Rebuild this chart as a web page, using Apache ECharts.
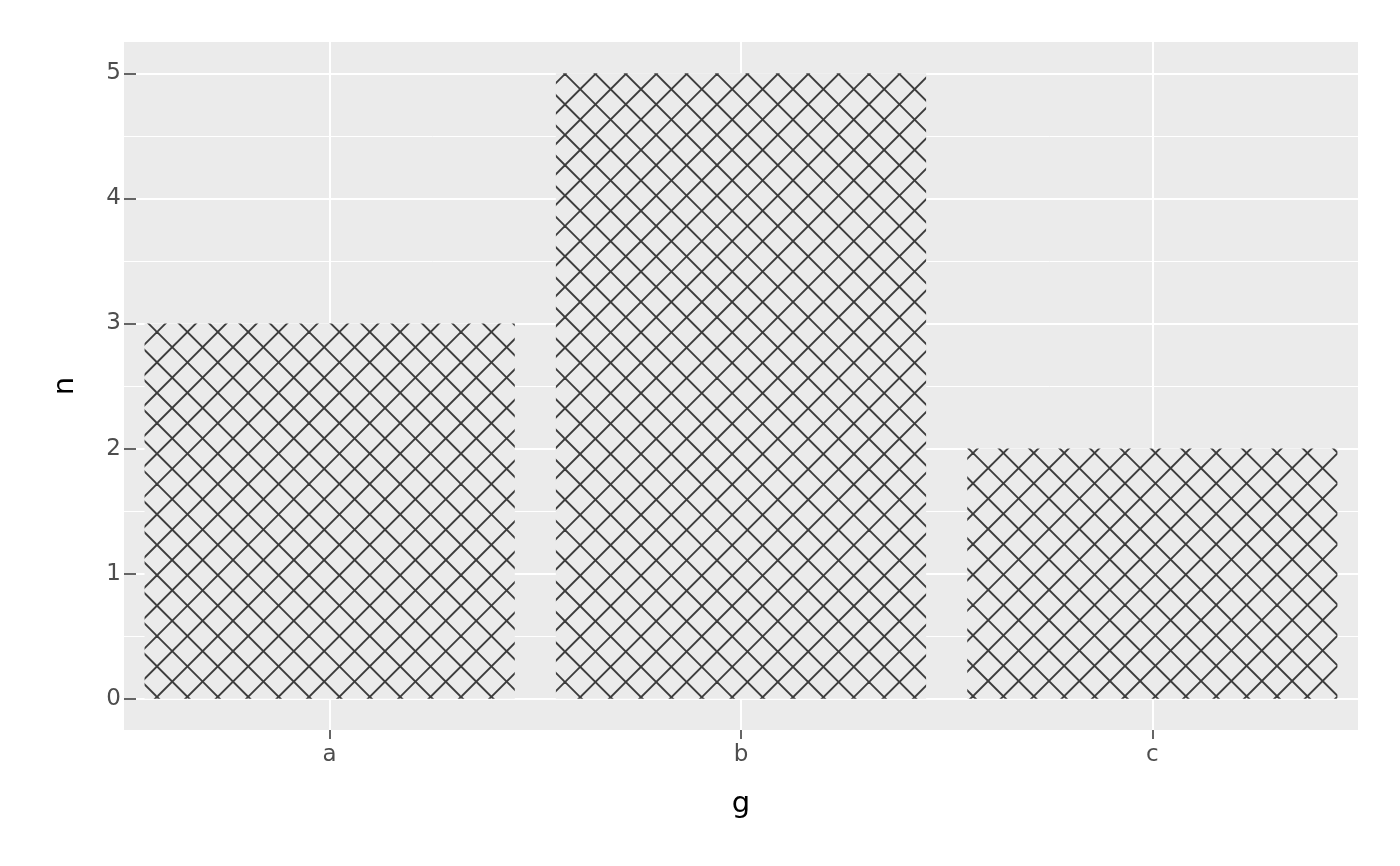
<!DOCTYPE html>
<html>
<head>
<meta charset="utf-8">
<script src="https://cdn.jsdelivr.net/npm/echarts@6/dist/echarts.min.js"></script>
<style>
html,body{margin:0;padding:0;background:#fff;}
#chart{width:1400px;height:866px;}
</style>
</head>
<body>
<div id="chart"></div>
<script>
// ---- data ----
const categories = ['a', 'b', 'c'];
const counts = [3, 5, 2];
const yTickValues = [0, 1, 2, 3, 4, 5];
const yMinorValues = [0.5, 1.5, 2.5, 3.5, 4.5];
const xTitle = 'g';
const yTitle = 'n';

// ---- crosshatch pattern tile ----
function makeTile() {
  const P = 30.4, T = 152; // 5 periods per tile -> seamless
  const c = document.createElement('canvas');
  c.width = T; c.height = T;
  const ctx = c.getContext('2d');
  ctx.fillStyle = '#EBEBEB';
  ctx.fillRect(0, 0, T, T);
  ctx.strokeStyle = '#3c3c3c';
  ctx.lineWidth = 1.9;
  for (let k = -12; k <= 12; k++) {
    const off = k * P;
    ctx.beginPath();
    ctx.moveTo(off - 20, -20); ctx.lineTo(off + T + 20, T + 20);
    ctx.stroke();
    ctx.beginPath();
    ctx.moveTo(off + T + 20, -20); ctx.lineTo(off - 20, T + 20);
    ctx.stroke();
  }
  return c;
}
const tile = makeTile();
// pattern anchor (a crossing point) for each bar
const anchors = [[157, 332], [565, 74], [973, 453]];

const barData = counts.map((v, i) => ({
  value: v,
  itemStyle: { color: { image: tile, repeat: 'repeat', x: anchors[i][0], y: anchors[i][1] } }
}));

const gridData = []
  .concat(yMinorValues.map(v => ({ yAxis: v, lineStyle: { color: '#ffffff', width: 1, type: 'solid' } })))
  .concat(yTickValues.map(v => ({ yAxis: v, lineStyle: { color: '#ffffff', width: 2, type: 'solid' } })))
  .concat(categories.map(c => ({ xAxis: c, lineStyle: { color: '#ffffff', width: 2, type: 'solid' } })));

const chart = echarts.init(document.getElementById('chart'), null, { renderer: 'canvas' });
chart.setOption({
  animation: false,
  backgroundColor: '#ffffff',
  grid: {
    left: 124, right: 42, top: 42, bottom: 136,
    show: true, backgroundColor: '#EBEBEB', borderWidth: 0
  },
  xAxis: {
    type: 'category',
    data: categories,
    boundaryGap: true,
    z: 20,
    axisLine: { show: true, onZero: false, lineStyle: { color: 'rgba(0,0,0,0)', width: 0 } },
    axisTick: { show: true, alignWithLabel: true, length: 9, lineStyle: { color: '#333333', width: 1.5 } },
    axisLabel: { color: '#4D4D4D', fontSize: 23, margin: 14, fontFamily: 'DejaVu Sans' },
    splitLine: { show: false },
    name: xTitle,
    nameLocation: 'middle',
    nameGap: 60,
    nameTextStyle: { color: '#000000', fontSize: 29, fontFamily: 'DejaVu Sans' }
  },
  yAxis: {
    type: 'value',
    min: -0.25,
    max: 5.25,
    z: 20,
    axisLine: { show: true, onZero: false, lineStyle: { color: 'rgba(0,0,0,0)', width: 0 } },
    axisTick: { show: true, inside: true, length: 12, customValues: yTickValues, lineStyle: { color: '#333333', width: 1.5 } },
    axisLabel: { color: '#4D4D4D', fontSize: 23, margin: 3, customValues: yTickValues, fontFamily: 'DejaVu Sans' },
    splitLine: { show: false },
    minorSplitLine: { show: false },
    name: yTitle,
    nameLocation: 'middle',
    nameGap: 44,
    nameRotate: 90,
    nameTextStyle: { color: '#000000', fontSize: 29, fontFamily: 'DejaVu Sans' }
  },
  series: [
    {
      type: 'line',
      data: [null, null, null],
      z: 1,
      silent: true,
      symbol: 'none',
      markLine: {
        z: 1,
        silent: true,
        symbol: ['none', 'none'],
        label: { show: false },
        emphasis: { disabled: true },
        animation: false,
        data: gridData
      }
    },
    {
      type: 'bar',
      z: 10,
      barWidth: '90%',
      data: barData,
      emphasis: { disabled: true },
      silent: true
    }
  ]
});
</script>
</body>
</html>
